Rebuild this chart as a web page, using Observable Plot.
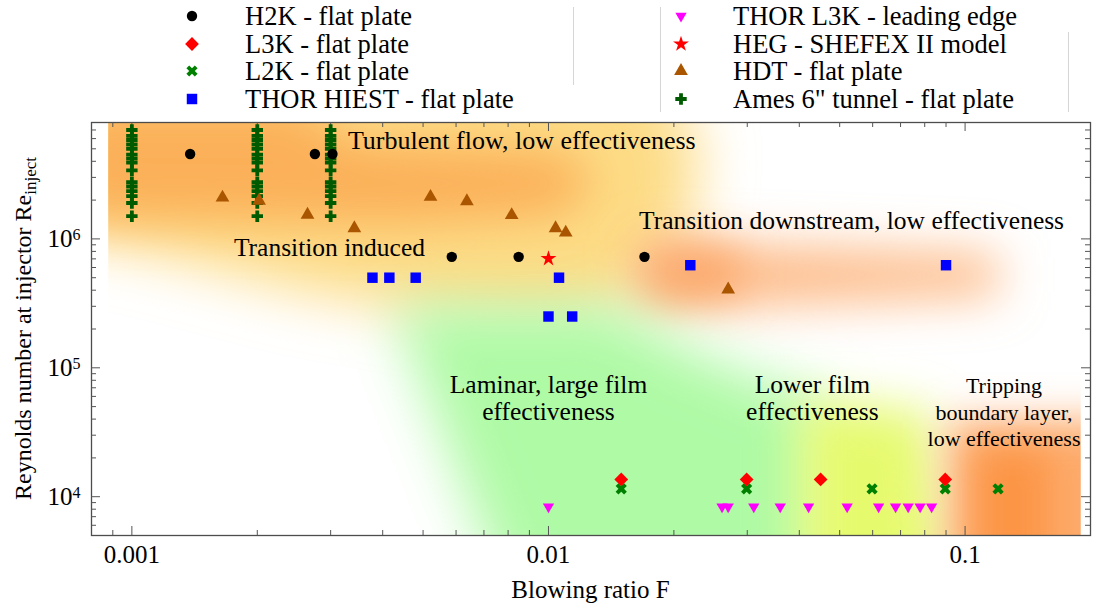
<!DOCTYPE html>
<html>
<head>
<meta charset="utf-8">
<script src="https://cdn.jsdelivr.net/npm/d3@7"></script>
<script src="https://cdn.jsdelivr.net/npm/@observablehq/plot@0.6"></script>
<style>
  html, body { margin: 0; padding: 0; background: #fff; overflow: hidden; }
  body { font-family: "Liberation Serif", "Times New Roman", serif; }
  #legend { position: relative; width: 1094px; height: 112px; }
  .lg { position: absolute; font-size: 26.5px; line-height: 28px; white-space: nowrap; color: #000; }
  .sep { position: absolute; width: 1px; background: #d6d6d6; }
  #chart svg { display: block; }
</style>
</head>
<body>
<div id="legend"></div>
<div id="chart"></div>
<script>
// ---------- measurements: blowing ratio F and injector Reynolds number ----------
const h2kF  = [0.00138, 0.00275, 0.00303, 0.00586, 0.00848, 0.0170];
const h2kRe = [4.56e6, 4.56e6, 4.56e6, 7.26e5, 7.26e5, 7.26e5];

const l3kF  = [0.01495, 0.0299, 0.0450, 0.0896];
const l3kRe = [13600, 13600, 13600, 13600];

const l2kF  = [0.01495, 0.0299, 0.0598, 0.0896, 0.120];
const l2kRe = [11500, 11500, 11500, 11500, 11500];

const hiestF  = [0.00378, 0.00415, 0.0048, 0.0106, 0.0100, 0.0114, 0.0219, 0.0900];
const hiestRe = [5.0e5, 5.0e5, 5.0e5, 5.0e5, 2.5e5, 2.5e5, 6.25e5, 6.25e5];

const leadF  = [0.0100, 0.0261, 0.0270, 0.0311, 0.0360, 0.0421, 0.0521, 0.0620, 0.0681, 0.0730, 0.0780, 0.0831];
const leadRe = [8370, 8370, 8370, 8370, 8370, 8370, 8370, 8370, 8370, 8370, 8370, 8370];

const hegF  = [0.0100];
const hegRe = [7.03e5];

const hdtF  = [0.00165, 0.00202, 0.00264, 0.00342, 0.00521, 0.00637, 0.00816, 0.0104, 0.0110, 0.0270];
const hdtRe = [2.09e6, 1.98e6, 1.54e6, 1.21e6, 2.12e6, 1.96e6, 1.53e6, 1.21e6, 1.12e6, 4.05e5];

// Ames 6" tunnel: the same Reynolds-number sweep at three blowing ratios
const amesF  = [0.001, 0.002, 0.003];
const amesRe = [7.0e6, 6.3e6, 5.85e6, 5.4e6, 5.0e6, 4.5e6, 4.2e6, 3.9e6, 3.4e6, 2.75e6, 2.55e6, 2.35e6, 2.15e6, 1.9e6, 1.5e6];

// ---------- flow-regime zones (F, Re vertices) ----------
const zoneTurbulent      = [[0.00068, 2.4e7], [0.0174, 2.4e7], [0.0230, 5.8e6], [0.0218, 1.16e6], [0.0174, 3.34e5], [0.0106, 2.34e5], [0.0058, 2.5e5], [0.00254, 4.0e5], [0.00111, 8.0e5], [0.00068, 1.1e6]];
const zoneTurbulentCore  = [[0.00068, 1.18e7], [0.00254, 1.18e7], [0.00334, 5.8e6], [0.0106, 4.84e6], [0.0132, 2.84e6], [0.0106, 1.52e6], [0.0044, 1.3e6], [0.00068, 1.4e6]];
const zoneDownstream     = [[0.0165, 9.7e5], [0.12, 7.5e5], [0.12, 3.65e5], [0.0165, 2.8e5]];
const zoneDownstreamCore = [[0.0174, 8.2e5], [0.0286, 8.2e5], [0.0286, 3.65e5], [0.0174, 3.65e5]];
const zoneLaminar        = [[0.0042, 3.0e5], [0.014, 3.0e5], [0.0218, 1.37e5], [0.0377, 6.7e4], [0.0447, 6.7e4], [0.0447, 1.6e3], [0.0080, 1.6e3]];
const zoneLowerFilm      = [[0.0400, 5.6e4], [0.0816, 4.7e4], [0.0911, 1.6e3], [0.0400, 1.6e3]];
const zoneTripping       = [[0.0911, 3.9e4], [0.25, 3.9e4], [0.25, 1.6e3], [0.0911, 1.6e3]];
const zoneTrippingCore   = [[0.107, 2.3e4], [0.158, 2.3e4], [0.158, 1.6e3], [0.107, 1.6e3]];
const shadeExtentF = [0.00088, 0.19];

// ---------- regime annotations ----------
const noteStartText = ["Turbulent flow, low effectiveness"];
const noteStartF = [0.0033];
const noteStartRe = [5.8e6];
const noteText = ["Transition induced", "Transition downstream, low effectiveness", "Laminar, large film\neffectiveness", "Lower film\neffectiveness"];
const noteF  = [0.00298, 0.0534, 0.0100, 0.0430];
const noteRe = [8.6e5, 1.38e6, 5.83e4, 5.83e4];
const noteSmallText = ["Tripping\nboundary layer,\nlow effectiveness"];
const noteSmallF  = [0.124];
const noteSmallRe = [4.62e4];

// ---------- axes ----------
const xDomain = [0.0008, 0.2];
const yDomain = [5000, 8e6];
const xMajor = [0.001, 0.01, 0.1];
const xMinor = [0.0009, 0.002, 0.003, 0.004, 0.005, 0.006, 0.007, 0.008, 0.009, 0.02, 0.03, 0.04, 0.05, 0.06, 0.07, 0.08, 0.09];
const yMajor = [1e4, 1e5, 1e6];
const yMinor = [6e3, 7e3, 8e3, 9e3, 2e4, 3e4, 4e4, 5e4, 6e4, 7e4, 8e4, 9e4, 2e5, 3e5, 4e5, 5e5, 6e5, 7e5, 8e5, 9e5, 2e6, 3e6, 4e6, 5e6, 6e6, 7e6];

// ---------- marker shapes ----------
const boldX = {
  draw(ctx, size) {
    const a = Math.sqrt(size / 5) / 2;
    const pts = [[-3*a,-a],[-a,-a],[-a,-3*a],[a,-3*a],[a,-a],[3*a,-a],[3*a,a],[a,a],[a,3*a],[-a,3*a],[-a,a],[-3*a,a]];
    const c = Math.SQRT1_2;
    pts.forEach(([x, y], i) => {
      const u = (x - y) * c, v = (x + y) * c;
      i ? ctx.lineTo(u, v) : ctx.moveTo(u, v);
    });
    ctx.closePath();
  }
};
const triangleDown = {
  draw(ctx, size) {
    const y = -Math.sqrt(size / (3 * Math.sqrt(3)));
    ctx.moveTo(0, -2 * y);
    ctx.lineTo(-Math.sqrt(3) * y, y);
    ctx.lineTo(Math.sqrt(3) * y, y);
    ctx.closePath();
  }
};
const d3Symbols = {circle: d3.symbolCircle, square: d3.symbolSquare, diamond2: d3.symbolDiamond2,
  triangle: d3.symbolTriangle, star: d3.symbolStar, cross: d3.symbolCross};
const symbolType = (s) => typeof s === "string" ? d3Symbols[s] : s;

const series = [
  {name: "H2K - flat plate", F: h2kF, Re: h2kRe, color: "#000000", symbol: "circle", r: 5.2},
  {name: "L3K - flat plate", F: l3kF, Re: l3kRe, color: "#ff0000", symbol: "diamond2", r: 6.2},
  {name: "L2K - flat plate", F: l2kF, Re: l2kRe, color: "#008000", symbol: boldX, r: 5.0},
  {name: "THOR HIEST - flat plate", F: hiestF, Re: hiestRe, color: "#0000ff", symbol: "square", r: 5.9},
  {name: "THOR L3K - leading edge", F: leadF, Re: leadRe, color: "#ff00ff", symbol: triangleDown, r: 4.2},
  {name: "HEG - SHEFEX II model", F: hegF, Re: hegRe, color: "#ff0000", symbol: "star", r: 5.0},
  {name: "HDT - flat plate", F: hdtF, Re: hdtRe, color: "#aa5500", symbol: "triangle", r: 5.1},
  {name: "Ames 6\" tunnel - flat plate", F: amesF.flatMap(f => amesRe.map(() => f)), Re: amesF.flatMap(() => amesRe), color: "#005a00", symbol: "cross", r: 4.8}
];
const drawOrder = [7, 2, 1, 0, 3, 4, 5, 6];

const zones = [
  {pts: zoneTurbulent, color: "#fddc86", blur: 28},
  {pts: zoneTurbulentCore, color: "#fbb058", blur: 24},
  {pts: zoneDownstream, color: "#fdba86", blur: 24},
  {pts: zoneDownstreamCore, color: "#fca86a", blur: 20},
  {pts: zoneLaminar, color: "#affaa5", blur: 28},
  {pts: zoneLowerFilm, color: "#e6fa6e", blur: 24},
  {pts: zoneTripping, color: "#fdaa6a", blur: 20},
  {pts: zoneTrippingCore, color: "#fc9444", blur: 18}
];

// ---------- legend ----------
const legend = d3.select("#legend");
const legendRowY = [16, 43.5, 71, 98.5];
series.forEach((s, i) => {
  const col = i < 4 ? 0 : 1, row = i % 4;
  const mx = col ? 681 : 192, tx = col ? 733 : 245, cy = legendRowY[row];
  const sv = legend.append("svg")
    .style("position", "absolute").style("left", (mx - 12) + "px").style("top", (cy - 12) + "px")
    .attr("width", 24).attr("height", 24);
  sv.append("path").attr("transform", "translate(12,12)")
    .attr("d", d3.symbol(symbolType(s.symbol), Math.PI * s.r * s.r)())
    .attr("fill", s.color);
  legend.append("div").attr("class", "lg")
    .style("left", tx + "px").style("top", (cy - 14) + "px").text(s.name);
});
[[573, 7, 85], [660, 7, 112], [1068, 32, 112]].forEach(([x, y0, y1]) => {
  legend.append("div").attr("class", "sep")
    .style("left", x + "px").style("top", y0 + "px").style("height", (y1 - y0) + "px");
});

// ---------- chart ----------
const W = 1094, H = 494, mL = 91, mR = 4, mT = 10, mB = 71;
const frameW = W - mL - mR, frameH = H - mT - mB;
const major = 9, minor = 5, tickColor = "#555";

const plot = Plot.plot({
  width: W, height: H,
  marginLeft: mL, marginRight: mR, marginTop: mT, marginBottom: mB,
  style: {fontFamily: '"Liberation Serif", "Times New Roman", serif', fontSize: "25px", color: "#000", background: "#fff"},
  x: {type: "log", domain: xDomain},
  y: {type: "log", domain: yDomain},
  marks: [
    ...zones.map(z => Plot.line(z.pts, {
      x: d => d[0], y: d => d[1], curve: "linear-closed",
      fill: z.color, stroke: "none", ariaDescription: `shade ${z.blur}`
    })),
    Plot.frame({stroke: "#4d4d4d", strokeWidth: 1.3}),
    // inward frame ticks on all four sides
    Plot.tickX(xMajor, {x: d => d, insetTop: frameH - major, stroke: tickColor}),
    Plot.tickX(xMajor, {x: d => d, insetBottom: frameH - major, stroke: tickColor}),
    Plot.tickX(xMinor, {x: d => d, insetTop: frameH - minor, stroke: tickColor}),
    Plot.tickX(xMinor, {x: d => d, insetBottom: frameH - minor, stroke: tickColor}),
    Plot.tickY(yMajor, {y: d => d, insetRight: frameW - major, stroke: tickColor}),
    Plot.tickY(yMajor, {y: d => d, insetLeft: frameW - major, stroke: tickColor}),
    Plot.tickY(yMinor, {y: d => d, insetRight: frameW - minor, stroke: tickColor}),
    Plot.tickY(yMinor, {y: d => d, insetLeft: frameW - minor, stroke: tickColor}),
    Plot.axisX(xMajor, {tickSize: 0, tickPadding: 10, tickFormat: d => String(d), label: null}),
    Plot.axisY(yMajor, {tickSize: 0, tickPadding: 11, tickFormat: d => `10^${Math.round(Math.log10(d))}`, label: null}),
    // regime annotations
    Plot.text(noteStartText, {x: noteStartF, y: noteStartRe, text: d => d, textAnchor: "start", fontSize: 26}),
    Plot.text(noteText, {x: noteF, y: noteRe, text: d => d, textAnchor: "middle", fontSize: 25.5, lineHeight: 1.03}),
    Plot.text(noteSmallText, {x: noteSmallF, y: noteSmallRe, text: d => d, textAnchor: "middle", fontSize: 22, lineHeight: 1.22}),
    // measurements
    ...drawOrder.map(i => {
      const s = series[i];
      return Plot.dot(s.F.map((f, j) => [f, s.Re[j]]), {
        x: d => d[0], y: d => d[1], symbol: s.symbol, r: s.r, fill: s.color, stroke: "none"
      });
    })
  ]
});

const root = d3.select(plot);
const sx = plot.scale("x");
const defs = root.insert("defs", ":first-child");

// soft-edged regime zones: blurred, then clipped to the shaded area of the frame
const clipId = "zone-clip";
const x0 = sx.apply(shadeExtentF[0]), x1 = sx.apply(shadeExtentF[1]);
defs.append("clipPath").attr("id", clipId).append("rect")
  .attr("x", x0).attr("y", mT).attr("width", x1 - x0).attr("height", frameH);
const zoneNodes = root.selectAll("g[aria-description^='shade']").nodes();
const layer = root.insert("g", "g[aria-description^='shade']").attr("clip-path", `url(#${clipId})`);
zoneNodes.forEach((n, i) => {
  const b = +n.getAttribute("aria-description").split(" ")[1];
  const fid = `zone-blur-${i}`;
  defs.append("filter").attr("id", fid).attr("filterUnits", "userSpaceOnUse")
    .attr("x", -400).attr("y", -400).attr("width", W + 800).attr("height", H + 800)
    .append("feGaussianBlur").attr("stdDeviation", b);
  n.setAttribute("filter", `url(#${fid})`);
  layer.node().appendChild(n);
});

// powers of ten with superscript exponents
root.selectAll("g[aria-label='y-axis tick label'] text").each(function() {
  const t = d3.select(this);
  const [base, exp] = t.text().split("^");
  t.text(null);
  t.append("tspan").text(base);
  t.append("tspan").attr("dy", "-0.45em").attr("font-size", "16px").text(exp);
});

// axis titles
root.append("text").attr("x", mL + frameW / 2).attr("y", H - 8)
  .attr("text-anchor", "middle").attr("font-size", 25).attr("fill", "#000").text("Blowing ratio F");
const yl = root.append("text")
  .attr("transform", `translate(31,${mT + frameH / 2}) rotate(-90)`)
  .attr("text-anchor", "middle").attr("font-size", 24).attr("fill", "#000");
yl.append("tspan").text("Reynolds number at injector Re");
yl.append("tspan").attr("dy", "0.3em").attr("font-size", 17).text("inject");

document.getElementById("chart").appendChild(plot);
</script>
</body>
</html>
